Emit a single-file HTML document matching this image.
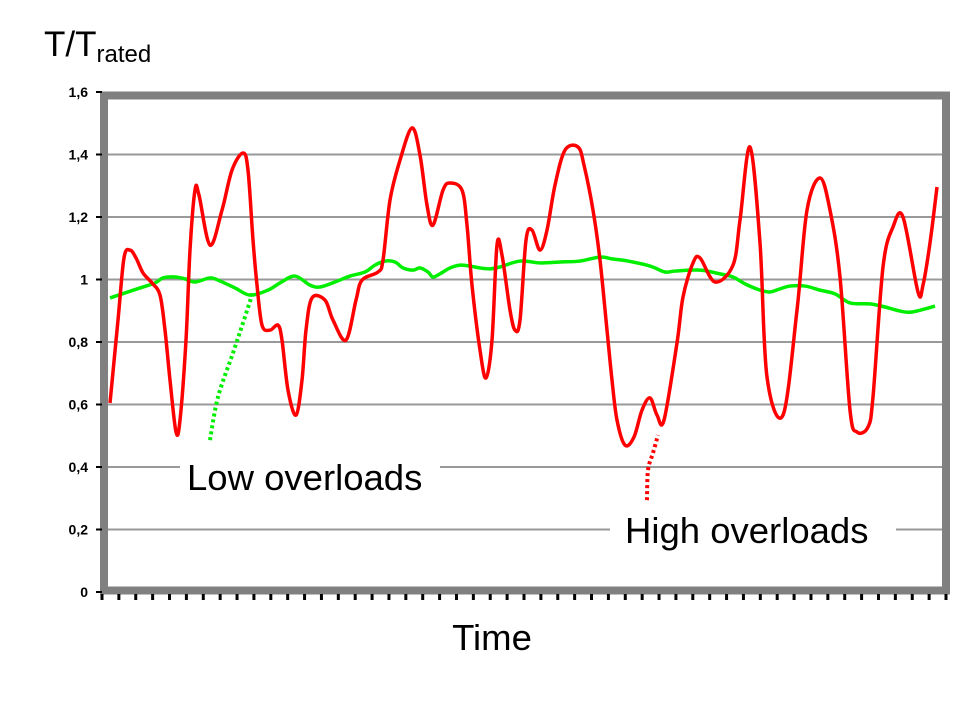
<!DOCTYPE html>
<html><head><meta charset="utf-8"><style>
body{margin:0;background:#fff;width:960px;height:720px;overflow:hidden}
svg text{font-family:"Liberation Sans",Arial,sans-serif}
</style></head><body>
<svg id="chart" width="960" height="720" viewBox="0 0 960 720">
<g id="grid"></g>
<rect x="104" y="95.5" width="842" height="495" fill="none" stroke="#808080" stroke-width="8"/>
<g id="yt"></g>
<g id="xt"></g>
<g id="series"></g>
<rect x="180" y="455" width="260" height="28" fill="#fff"/>
<text x="187" y="490" font-size="36.5">Low overloads</text>
<rect x="610" y="518" width="286" height="26" fill="#fff"/>
<text x="625" y="543" font-size="36.5">High overloads</text>
<text x="44" y="56" font-size="35">T/T<tspan font-size="24" dy="6">rated</tspan></text>
<text x="492" y="650" font-size="36.5" text-anchor="middle">Time</text>
</svg>
<script>
const yTicks=[0,0.2,0.4,0.6,0.8,1,1.2,1.4,1.6];
const yTickLabels=["0","0,2","0,4","0,6","0,8","1","1,2","1,4","1,6"];
const redT=[2,10,16,22,28,35,44,52,57,62,68,72,78,82,87,91,102,114,124,135,140,145,149,154,162,170,174,180,188,194,198,204,217,225,238,248,254,270,275,282,292,304,312,319,325,335,342,354,359,364,372,378,384,389,394,402,407,412,418,424,432,439,447,457,470,476,485,492,499,504,509,517,526,534,542,549,556,569,575,585,592,607,625,632,642,652,659,675,689,699,712,722,732,742,749,760,765,775,785,795,810,815,822,829];
const redV=[.605,.870,1.069,1.094,1.069,1.021,.989,.950,.838,.678,.512,.550,.806,1.094,1.286,1.270,1.110,1.222,1.350,1.405,1.350,1.126,.982,.854,.838,.854,.806,.646,.566,.678,.838,.941,.934,.870,.806,.934,.998,1.024,1.062,1.254,1.382,1.485,1.398,1.238,1.174,1.286,1.309,1.286,1.174,.982,.774,.685,.806,1.110,1.078,.902,.838,.870,1.126,1.158,1.094,1.158,1.302,1.414,1.424,1.366,1.222,1.062,.838,.678,.550,.470,.496,.582,.621,.566,.550,.797,.944,1.053,1.069,.992,1.046,1.190,1.424,1.117,.688,.566,.902,1.222,1.325,1.222,1.008,.582,.512,.528,.624,1.040,1.168,1.200,.960,.982,1.117,1.296];
const greenT=[2,17,32,47,55,67,77,87,102,112,127,142,160,172,187,202,212,227,242,257,267,277,287,295,305,312,320,325,332,342,352,362,372,382,392,412,432,452,472,492,504,520,542,557,567,592,612,625,637,652,662,672,682,697,712,727,742,762,777,792,804,827];
const greenV=[.941,.957,.973,.989,1.005,1.008,1.002,.992,1.005,.995,.973,.950,.966,.989,1.011,.982,.976,.992,1.011,1.024,1.046,1.059,1.056,1.037,1.030,1.037,1.024,1.008,1.018,1.037,1.046,1.043,1.037,1.034,1.040,1.059,1.053,1.056,1.059,1.072,1.066,1.059,1.043,1.024,1.027,1.030,1.018,1.008,.986,.966,.960,.970,.979,.979,.966,.954,.925,.922,.912,.899,.896,.915];
const lowPointerT=[102,110,125,135,145];
const lowPointerV=[.486,.624,.765,.861,.960];
const highPointerT=[539,540,545,550];
const highPointerV=[.294,.390,.445,.502];
const xTickCount=51;

const NS="http://www.w3.org/2000/svg";
const xs=t=>108+t*(834/834);
const ys=v=>592-v*312.5;
function mk(tag,attrs,parent){const e=document.createElementNS(NS,tag);for(const k in attrs)e.setAttribute(k,attrs[k]);parent.appendChild(e);return e;}
function smooth(T,V){const p=T.map((t,i)=>[xs(t),ys(V[i])]);let d="M"+p[0][0]+","+p[0][1];
for(let i=0;i<p.length-1;i++){const p0=p[i-1]||p[i],p1=p[i],p2=p[i+1],p3=p[i+2]||p2;
const c1=[p1[0]+(p2[0]-p0[0])/6,p1[1]+(p2[1]-p0[1])/6],c2=[p2[0]-(p3[0]-p1[0])/6,p2[1]-(p3[1]-p1[1])/6];
d+=" C"+c1.join(",")+" "+c2.join(",")+" "+p2.join(",");}return d;}
const grid=document.getElementById('grid'),yt=document.getElementById('yt'),xt=document.getElementById('xt'),ser=document.getElementById('series');
yTicks.forEach((v,i)=>{
 if(v>0&&v<1.6){const l=mk('line',{x1:108,x2:942,y1:ys(v),y2:ys(v),stroke:'#999','stroke-width':2},grid);
 
 }
 const tk=mk('line',{x1:96,x2:102,y1:ys(v),y2:ys(v),stroke:'#000','stroke-width':2},yt);
 
 
 const tx=mk('text',{x:88,y:ys(v)+5,'font-size':14,'font-weight':'bold','text-anchor':'end',fill:'#000'},yt);
 tx.textContent=yTickLabels[i];
 
 
});
for(let i=0;i<xTickCount;i++){const x=102+i*(844/(xTickCount-1));
 const l=mk('line',{x1:x,x2:x,y1:594,y2:600,stroke:'#000','stroke-width':3},xt);
 
 }
const g=mk('path',{d:smooth(greenT,greenV),fill:'none',stroke:'#00ee00','stroke-width':3.5,'stroke-linejoin':'round'},ser);


const r=mk('path',{d:smooth(redT,redV),fill:'none',stroke:'#ff0000','stroke-width':3.5,'stroke-linejoin':'round'},ser);


const lp=mk('path',{d:smooth(lowPointerT,lowPointerV),fill:'none',stroke:'#00ee00','stroke-width':4,'stroke-dasharray':'3 3'},ser);


const hp=mk('path',{d:smooth(highPointerT,highPointerV),fill:'none',stroke:'#ff0000','stroke-width':4,'stroke-dasharray':'3 3'},ser);


</script>
</body></html>
